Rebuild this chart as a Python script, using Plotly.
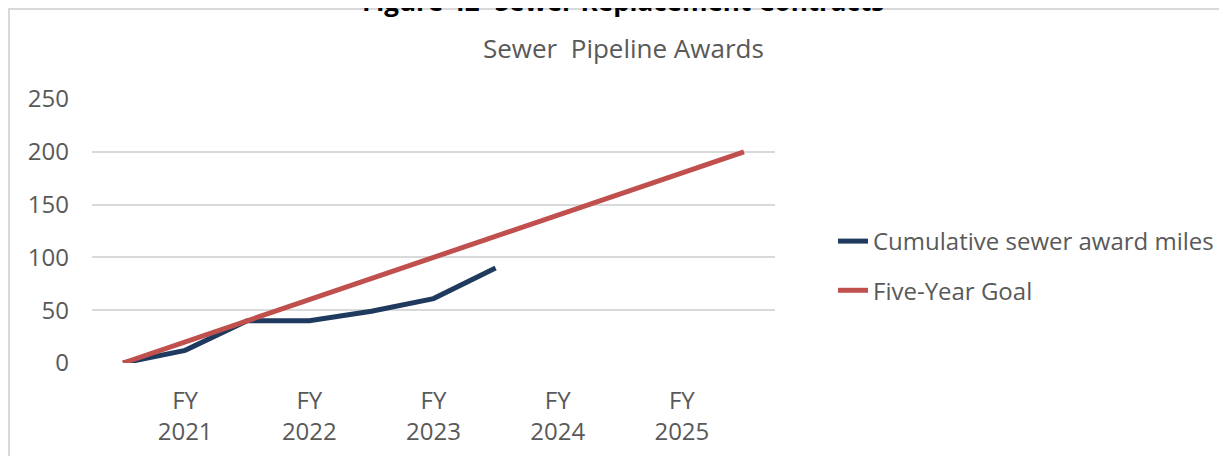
import plotly.graph_objects as go

x_idx = list(range(11))
tick_pos = [1, 3, 5, 7, 9]
tick_text = ["FY<br>2021", "FY<br>2022", "FY<br>2023", "FY<br>2024", "FY<br>2025"]
award_miles = [0, 12, 40, 40, 49, 61, 90]
goal = [0, 20, 40, 60, 80, 100, 120, 140, 160, 180, 200]

FONT = "Open Sans"
GREY = "#595959"

fig = go.Figure()
fig.add_trace(go.Scatter(x=x_idx[:len(award_miles)], y=award_miles, mode="lines",
                         name="Cumulative sewer award miles", legendgroup="a",
                         line=dict(color="#1e3a5f", width=5)))
fig.add_trace(go.Scatter(x=x_idx, y=goal, mode="lines", name="Five-Year Goal",
                         legendgroup="b", line=dict(color="#c0504d", width=5)))

OFF = 8  # page body margin offset
W, H = 1227, 456
L = 92 - OFF
T = 99 - OFF
R = W - (775 - OFF)
B = H - (363 - OFF)
pw, ph = W - L - R, H - T - B

def px(xp):  # target screenshot x -> paper
    return (xp - OFF - L) / pw

def py(yp):  # target screenshot y -> paper
    return (H - B - (yp - OFF)) / ph

fig.update_layout(
    width=W, height=H,
    margin=dict(l=L, r=R, t=T, b=B, autoexpand=False),
    paper_bgcolor="white", plot_bgcolor="white",
    font=dict(family=FONT, color=GREY, size=24),
    showlegend=True,
    legend=dict(x=px(833), y=py(219), xanchor="left", yanchor="top",
                font=dict(size=24, color=GREY), tracegroupgap=15,
                traceorder="grouped", bgcolor="rgba(0,0,0,0)", itemwidth=30),
    xaxis=dict(range=[-0.5, 10.5], tickvals=tick_pos, ticktext=tick_text,
               showgrid=False, zeroline=False, showline=False, ticks="",
               tickfont=dict(size=24, color=GREY), ticklabelstandoff=21),
    yaxis=dict(range=[0, 250], tickvals=[0, 50, 100, 150, 200, 250],
               showgrid=True, gridcolor="#d9d9d9", gridwidth=1.5, zeroline=False,
               showline=False, ticks="", tickfont=dict(size=24, color=GREY),
               ticklabelstandoff=22),
    shapes=[dict(type="rect", xref="paper", yref="paper",
                 x0=px(9), x1=px(1300), y0=py(520), y1=py(9),
                 line=dict(color="#d9d9d9", width=2), fillcolor="rgba(0,0,0,0)", layer="below")],
    annotations=[
        dict(text="Sewer  Pipeline Awards", xref="paper", yref="paper",
             x=px(623), y=py(48), xanchor="center", yanchor="middle", showarrow=False,
             font=dict(size=26, color=GREY, family=FONT)),
        dict(text="<b>Figure 42- Sewer Replacement Contracts</b>", xref="paper", yref="paper",
             x=px(623), y=py(1), xanchor="center", yanchor="middle", showarrow=False,
             font=dict(size=26, color="black", family=FONT)),
    ],
)

fig.write_html("out.html")
